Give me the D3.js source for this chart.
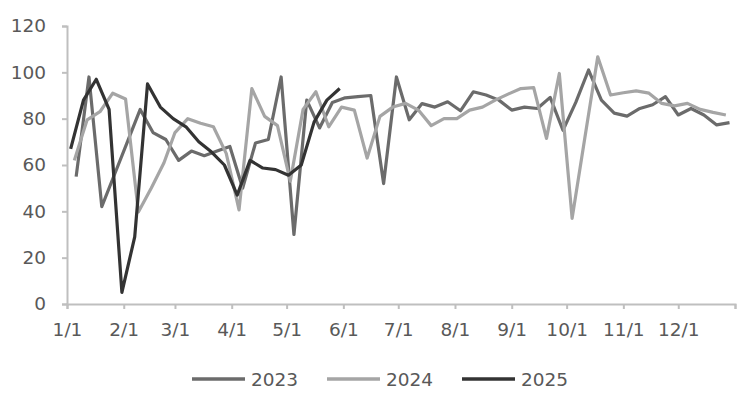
<!DOCTYPE html>
<html>
<head>
<meta charset="utf-8">
<script src="https://cdn.jsdelivr.net/npm/d3@7"></script>
<style>
  body { margin: 0; background: #fff; }
  text { font-family: "DejaVu Sans", sans-serif; fill: #595959; }
</style>
</head>
<body>
<div id="chart"></div>
<script>
// weekly readings (Fridays), one array per year
const seriesNames = ["2023", "2024", "2025"];
const startDates = ["2023-01-06", "2024-01-05", "2025-01-03"];
const values2023 = [55, 98, 42, 56, 70, 84, 74, 71, 62, 66, 64, 66, 68, 50, 69.5, 71, 98, 30,
  88, 76, 87, 89, 89.5, 90, 52, 98, 79.5, 86.5, 85, 87.3, 83.4, 91.6, 90.2, 88, 83.7, 85,
  84.4, 89.2, 75, 87, 101, 88, 82.4, 81.1, 84.4, 86, 89.5, 81.6, 84.4, 81.6, 77.3, 78.3];
const values2024 = [62, 79.5, 83, 91, 88.5, 39.7, 50, 61, 74, 80, 78, 76.5, 65, 40.6, 93, 81,
  77, 53, 84, 91.6, 76.5, 85, 83.7, 63, 81, 85, 86.6, 83.7, 77, 80, 80, 83.7, 85, 88, 90.6,
  93, 93.4, 71.5, 99.5, 37, 72, 106.7, 90.2, 91.2, 92, 91, 86.6, 85.5, 86.6, 84, 82.7, 81.6];
const values2025 = [67, 88, 97, 84, 5, 29, 95, 85, 80, 76.5, 70, 65.6, 60, 47, 62, 58.7, 58,
  55.6, 60, 78.5, 88, 93];
const monthLabels = ["1/1", "2/1", "3/1", "4/1", "5/1", "6/1", "7/1", "8/1", "9/1", "10/1", "11/1", "12/1"];
const yTicks = [0, 20, 40, 60, 80, 100, 120];

const colors = { "2023": "#6b6b6b", "2024": "#a5a5a5", "2025": "#333333" };
const width = 743, height = 396;
const plot = { left: 67, right: 735, top: 26, bottom: 304 };

// put every year on the same calendar so the seasons line up
function toWeeks(start, values) {
  const s = new Date(start + "T00:00:00");
  return values.map((v, i) => {
    const d = d3.timeDay.offset(s, i * 7);
    return { date: new Date(2023, d.getMonth(), d.getDate()), value: v };
  });
}
const data = {
  "2023": toWeeks(startDates[0], values2023),
  "2024": toWeeks(startDates[1], values2024),
  "2025": toWeeks(startDates[2], values2025)
};

const x = d3.scaleTime()
  .domain([new Date(2023, 0, 1), new Date(2024, 0, 1)])
  .range([plot.left, plot.right]);
const y = d3.scaleLinear().domain([0, 120]).range([plot.bottom, plot.top]);

const svg = d3.select("#chart").append("svg")
  .attr("width", width)
  .attr("height", height);

// y axis
const yAxis = svg.append("g")
  .attr("transform", `translate(${plot.left},0)`)
  .call(d3.axisLeft(y).tickValues(yTicks).tickSize(5).tickPadding(16));
yAxis.select(".domain").attr("stroke", "#bfbfbf").attr("stroke-width", 2);
yAxis.selectAll(".tick line").attr("stroke", "#bfbfbf").attr("stroke-width", 2);
yAxis.selectAll("text").attr("font-size", 18.5).attr("fill", "#595959")
  .style("font-family", "DejaVu Sans");

// x axis, month starts
const monthStarts = d3.timeMonth.range(new Date(2023, 0, 1), new Date(2024, 0, 2));
const xAxis = svg.append("g")
  .attr("transform", `translate(0,${plot.bottom})`)
  .call(d3.axisBottom(x).tickValues(monthStarts).tickSize(5).tickPadding(14)
    .tickFormat((d, i) => monthLabels[i] || ""));
xAxis.select(".domain").attr("stroke", "#bfbfbf").attr("stroke-width", 2);
xAxis.selectAll(".tick line").attr("stroke", "#bfbfbf").attr("stroke-width", 2);
xAxis.selectAll("text").attr("font-size", 18.5).attr("fill", "#595959")
  .style("font-family", "DejaVu Sans");

// lines
const line = d3.line()
  .x(d => x(d.date))
  .y(d => y(d.value));

seriesNames.forEach(name => {
  svg.append("path")
    .datum(data[name])
    .attr("fill", "none")
    .attr("stroke", colors[name])
    .attr("stroke-width", 3.2)
    .attr("stroke-linejoin", "round")
    .attr("d", line);
});

// legend
const legend = svg.append("g").attr("transform", "translate(192,379)");
seriesNames.forEach((name, i) => {
  const g = legend.append("g").attr("transform", `translate(${i * 135},0)`);
  g.append("line")
    .attr("x1", 0).attr("x2", 53)
    .attr("stroke", colors[name])
    .attr("stroke-width", 3.5);
  g.append("text")
    .attr("x", 59)
    .attr("dy", "0.36em")
    .attr("font-size", 18.5)
    .text(name);
});
</script>
</body>
</html>
